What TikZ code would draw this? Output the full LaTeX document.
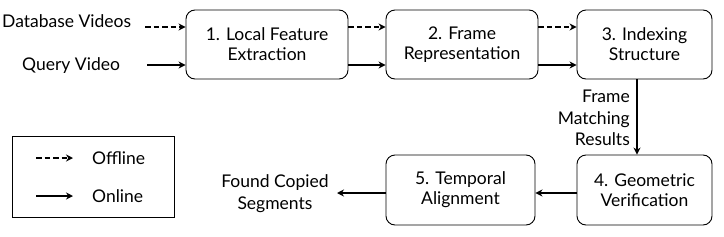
\documentclass[tikz,border=0pt]{standalone}
\usepackage{fontspec}
\setmainfont{Lato}
\usetikzlibrary{arrows.meta}
\begin{document}
\begin{tikzpicture}[x=1pt,y=-1pt,
  stepbox/.style={draw, rounded corners=9pt, line width=0.9pt, align=center, font=\fontsize{17.5}{20}\selectfont},
  lbl/.style={font=\fontsize{17.5}{20}\selectfont, inner sep=0pt},
  conn/.style={line width=1.9pt, -{Stealth[length=7pt,width=7pt]}},
  off/.style={conn, dash pattern=on 5.5pt off 3pt}]
\useasboundingbox (0,0) rectangle (724,236);
\node[stepbox, minimum width=162pt, minimum height=69pt] (b1) at (267,44.5) {1. Local Feature\\Extraction};
\node[stepbox, minimum width=152pt, minimum height=69pt] (b2) at (462,44.5) {2. Frame\\Representation};
\node[stepbox, minimum width=135pt, minimum height=69pt] (b3) at (644.5,44.5) {3. Indexing\\Structure};
\node[stepbox, minimum width=135pt, minimum height=70pt] (b4) at (644.5,190) {4. Geometric\\Verification};
\node[stepbox, minimum width=149pt, minimum height=70pt] (b5) at (460.5,190) {5. Temporal\\Alignment};
\node[lbl, anchor=west] (db) at (2,21) {Database Videos};
\node[lbl, anchor=west] (qv) at (22,66) {Query Video};
\coordinate (dbe) at (145,27);
\coordinate (qve) at (147,65);
\draw[off] (dbe) -- (dbe -| b1.west);
\draw[conn] (qve) -- (qve -| b1.west);
\draw[off] (b1.east |- 0,27) -- (b2.west |- 0,27);
\draw[conn] (b1.east |- 0,65) -- (b2.west |- 0,65);
\draw[off] (b2.east |- 0,27) -- (b3.west |- 0,27);
\draw[conn] (b2.east |- 0,65) -- (b3.west |- 0,65);
\draw[conn] (b3.south -| 637,0) -- (b4.north -| 637,0);
\node[lbl, align=right, anchor=east, font=\fontsize{17.5}{21.5}\selectfont] (fm) at (630,118) {Frame\\Matching\\Results};
\draw[conn] (b4.west |- 0,193) -- (b5.east |- 0,193);
\node[lbl, align=center, font=\fontsize{17.5}{22}\selectfont] (fc) at (275,194) {Found Copied\\Segments};
\coordinate (fce) at (337,193);
\draw[conn] (b5.west |- fce) -- (fce);
\node[draw, line width=0.8pt, minimum width=162pt, minimum height=81pt] (leg) at (93,176.5) {};
\coordinate (l1a) at (36,158);
\coordinate (l1b) at (73,158);
\coordinate (l2a) at (36,196);
\coordinate (l2b) at (73,196);
\draw[off] (l1a) -- (l1b);
\draw[conn] (l2a) -- (l2b);
\node[lbl, anchor=west] (offl) at (92,158) {Offline};
\node[lbl, anchor=west] (onl) at (92,196) {Online};
\end{tikzpicture}
\end{document}
